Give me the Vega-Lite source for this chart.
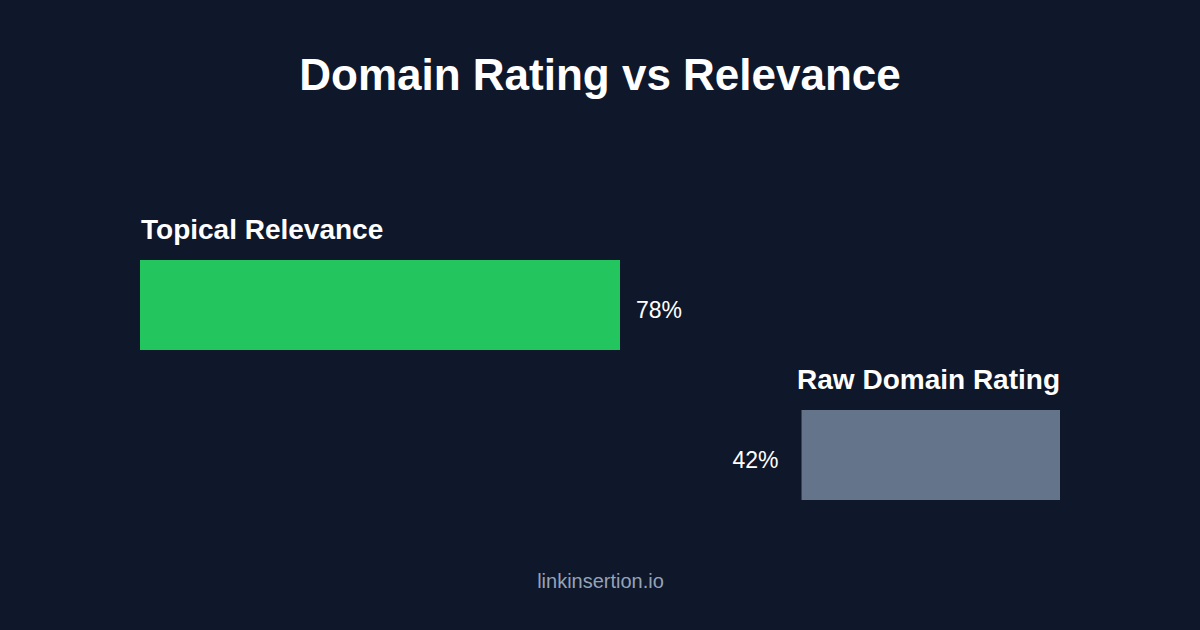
{
  "$schema": "https://vega.github.io/schema/vega-lite/v6.json",
  "width": 920,
  "height": 240,
  "autosize": {"type": "none"},
  "padding": {"left": 140, "right": 140, "top": 260, "bottom": 130},
  "background": "#0f172a",
  "title": {
    "text": "Domain Rating vs Relevance",
    "font": "Liberation Sans",
    "fontSize": 44,
    "fontWeight": "bold",
    "color": "#ffffff",
    "anchor": "middle",
    "baseline": "alphabetic",
    "offset": 83
  },
  "config": {
    "view": {"stroke": null},
    "text": {"font": "Liberation Sans", "color": "#ffffff"}
  },
  "data": {
    "values": [
      {"metric": "Topical Relevance", "value": 0.78, "side": "left"},
      {"metric": "Raw Domain Rating", "value": 0.42, "side": "right"}
    ]
  },
  "encoding": {
    "y": {
      "field": "metric",
      "type": "nominal",
      "sort": ["Topical Relevance", "Raw Domain Rating"],
      "scale": {"paddingInner": 0.4, "paddingOuter": 0},
      "axis": null
    }
  },
  "layer": [
    {
      "transform": [{"filter": "datum.side == 'left'"}],
      "encoding": {
        "x": {
          "field": "value",
          "type": "quantitative",
          "scale": {"domain": [0, 1.495]},
          "axis": {
            "title": "linkinsertion.io",
            "domain": false,
            "ticks": false,
            "labels": false,
            "grid": false,
            "titleFont": "Liberation Sans",
            "titleFontSize": 20,
            "titleFontWeight": "normal",
            "titleColor": "#94a3b8",
            "titleBaseline": "alphabetic",
            "titlePadding": 87
          }
        }
      },
      "layer": [
        {"mark": {"type": "bar", "color": "#22c55e"}},
        {
          "mark": {"type": "text", "align": "left", "baseline": "alphabetic", "dx": 16, "dy": 13, "fontSize": 23},
          "encoding": {"text": {"field": "value", "type": "quantitative", "format": ".0%"}}
        },
        {
          "mark": {"type": "text", "align": "left", "baseline": "alphabetic", "dx": 1, "dy": -66, "fontSize": 28, "fontWeight": "bold"},
          "encoding": {
            "x": {"datum": 0, "type": "quantitative"},
            "text": {"field": "metric"}
          }
        }
      ]
    },
    {
      "transform": [{"filter": "datum.side == 'right'"}],
      "encoding": {
        "x": {
          "field": "value",
          "type": "quantitative",
          "scale": {"domain": [0, 1.495], "reverse": true},
          "axis": null
        }
      },
      "layer": [
        {"mark": {"type": "bar", "color": "#64748b"}},
        {
          "mark": {"type": "text", "align": "right", "baseline": "alphabetic", "dx": -23, "dy": 13, "fontSize": 23},
          "encoding": {"text": {"field": "value", "type": "quantitative", "format": ".0%"}}
        },
        {
          "mark": {"type": "text", "align": "right", "baseline": "alphabetic", "dy": -66, "fontSize": 28, "fontWeight": "bold"},
          "encoding": {
            "x": {"datum": 0, "type": "quantitative"},
            "text": {"field": "metric"}
          }
        }
      ]
    }
  ],
  "resolve": {"scale": {"x": "independent"}, "axis": {"x": "independent"}}
}
